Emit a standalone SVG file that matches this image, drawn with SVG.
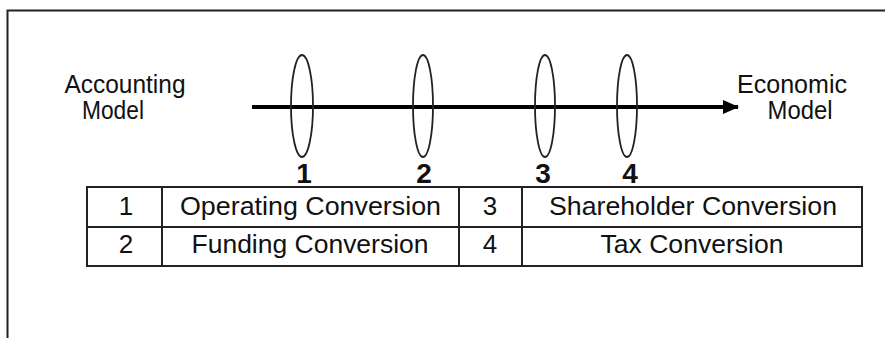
<svg xmlns="http://www.w3.org/2000/svg" width="885" height="338" viewBox="0 0 885 338">
<style>
text{font-family:"Liberation Sans",Arial,sans-serif;fill:#111}
.lbl{font-size:25px}
.cell{font-size:26px;text-anchor:middle}
.num{font-size:28px;font-weight:bold;text-anchor:middle}
.ring{fill:none;stroke:#222;stroke-width:1.8}
.tbl{fill:none;stroke:#222;stroke-width:2}
</style>
<defs>
<marker id="ah" markerWidth="16" markerHeight="14" refX="15" refY="7" orient="auto" markerUnits="userSpaceOnUse">
<path d="M0,0 L16,7 L0,14 Z" fill="#000"/>
</marker>
</defs>
<rect width="885" height="338" fill="#fff"/>
<path d="M7.5,340 V10.5 H890" fill="none" stroke="#222" stroke-width="2"/>
<g id="accounting-model">
<text class="lbl" x="125" y="93" text-anchor="middle" textLength="121" lengthAdjust="spacingAndGlyphs">Accounting</text>
<text class="lbl" x="113" y="119" text-anchor="middle" textLength="62" lengthAdjust="spacingAndGlyphs">Model</text>
</g>
<g id="economic-model">
<text class="lbl" x="792" y="93" text-anchor="middle" textLength="110" lengthAdjust="spacingAndGlyphs">Economic</text>
<text class="lbl" x="800" y="119" text-anchor="middle" textLength="65" lengthAdjust="spacingAndGlyphs">Model</text>
</g>
<g id="connectors">
<line x1="252" y1="107" x2="738" y2="107" stroke="#000" stroke-width="4" marker-end="url(#ah)"/>
</g>
<g id="ring-1"><ellipse class="ring" cx="302" cy="106" rx="11" ry="51"/><text class="num" x="304" y="183">1</text></g>
<g id="ring-2"><ellipse class="ring" cx="423" cy="106" rx="10" ry="51"/><text class="num" x="424" y="183">2</text></g>
<g id="ring-3"><ellipse class="ring" cx="545" cy="106" rx="10" ry="51"/><text class="num" x="543" y="183">3</text></g>
<g id="ring-4"><ellipse class="ring" cx="627" cy="106" rx="10" ry="51"/><text class="num" x="630" y="183">4</text></g>
<g id="legend-table">
<rect class="tbl" x="87" y="187" width="775" height="79"/>
<line class="tbl" x1="87" y1="227" x2="862" y2="227"/>
<line class="tbl" x1="162" y1="187" x2="162" y2="266"/>
<line class="tbl" x1="459" y1="187" x2="459" y2="266"/>
<line class="tbl" x1="522" y1="187" x2="522" y2="266"/>
<text class="cell" x="126" y="215">1</text>
<text class="cell" x="310.5" y="215" textLength="261" lengthAdjust="spacingAndGlyphs">Operating Conversion</text>
<text class="cell" x="490" y="215">3</text>
<text class="cell" x="693" y="215" textLength="288" lengthAdjust="spacingAndGlyphs">Shareholder Conversion</text>
<text class="cell" x="126" y="253">2</text>
<text class="cell" x="310" y="253" textLength="237" lengthAdjust="spacingAndGlyphs">Funding Conversion</text>
<text class="cell" x="490" y="253">4</text>
<text class="cell" x="692" y="253" textLength="183" lengthAdjust="spacingAndGlyphs">Tax Conversion</text>
</g>
</svg>
